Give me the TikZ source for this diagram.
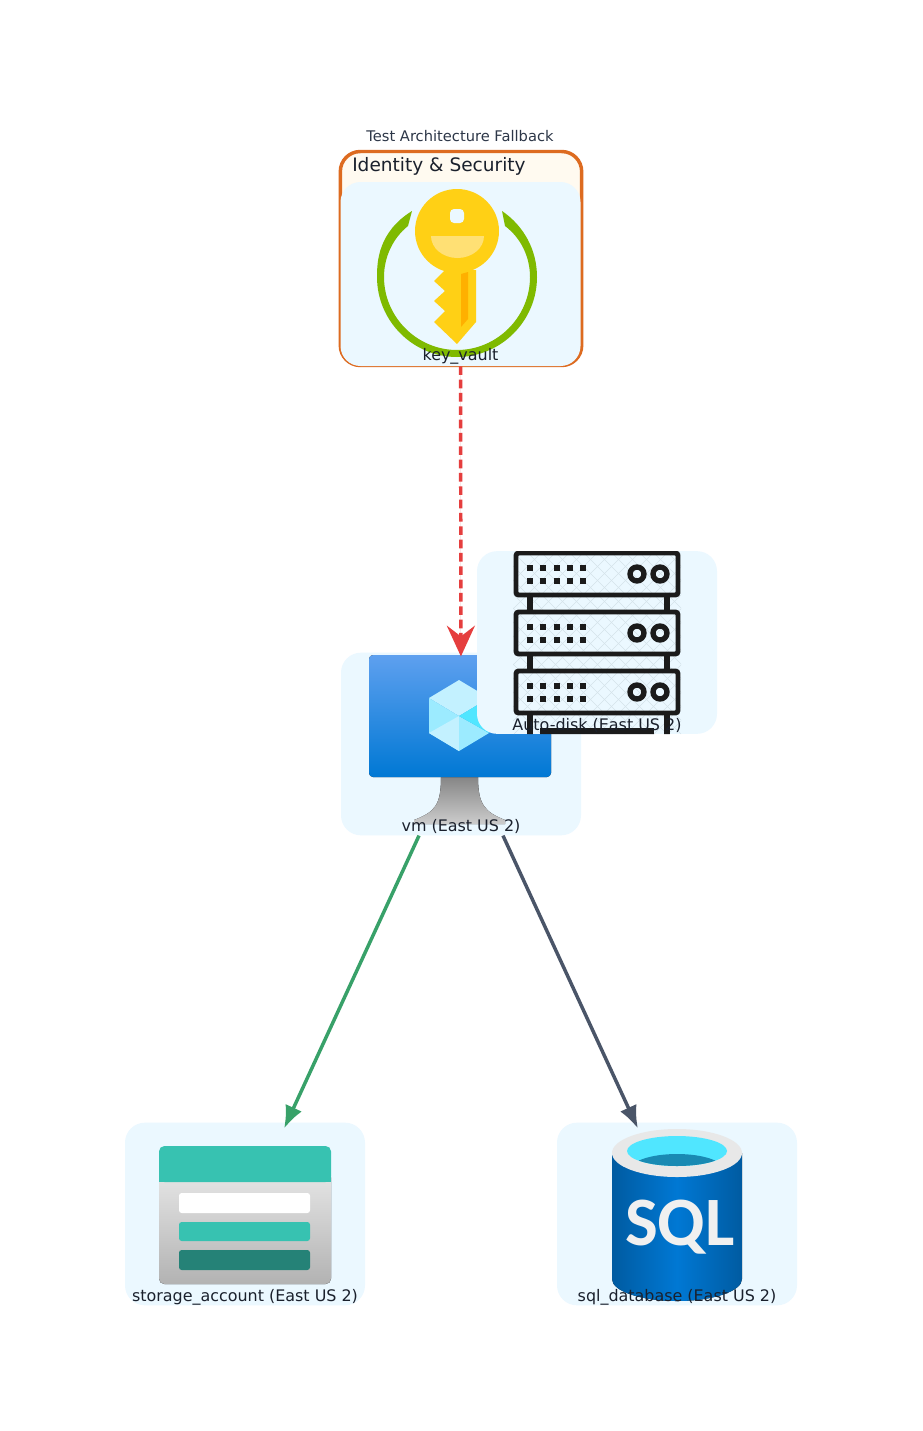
\documentclass[tikz,border=0pt]{standalone}
\usepackage{fontspec}
\setmainfont{DejaVu Sans}
\newfontfamily\sqlfont{Carlito}
\usetikzlibrary{arrows.meta,positioning}
\definecolor{nodebg}{HTML}{EBF8FF}
\definecolor{clusterbg}{HTML}{FFFAF0}
\definecolor{clusterline}{HTML}{DD6B20}
\definecolor{labeltext}{HTML}{1A202C}
\definecolor{titletext}{HTML}{2D3748}
\definecolor{keyyellow}{HTML}{FFD015}
\definecolor{keylight}{HTML}{FFE074}
\definecolor{keynotch}{HTML}{FFB000}
\definecolor{ringgreen}{HTML}{7FBA00}
\definecolor{tealbar}{HTML}{37C2B1}
\definecolor{darkteal}{HTML}{258277}
\definecolor{sqlblue}{HTML}{0078D4}
\definecolor{sqldark}{HTML}{005BA1}
\definecolor{sqlcyan}{HTML}{50E6FF}
\definecolor{sqlwater}{HTML}{198AB3}
\definecolor{vmtop}{HTML}{5EA0EF}
\definecolor{hexlight}{HTML}{C3F1FF}
\definecolor{hexmid}{HTML}{9CEBFF}
\definecolor{serverink}{HTML}{1B1B1B}
\definecolor{hatchline}{HTML}{D5E3EA}
\definecolor{edgered}{HTML}{E53E3E}
\definecolor{edgegreen}{HTML}{38A169}
\definecolor{edgegray}{HTML}{4A5568}
\tikzset{
  svc/.style={rectangle, fill=nodebg, rounded corners=15pt, minimum width=180pt, minimum height=137pt, inner sep=0pt},
  svclabel/.style={font=\fontsize{11.95pt}{14pt}\selectfont, text=labeltext, inner sep=0pt, anchor=base},
  flow/.style={line width=2.6pt, -{Latex[length=17pt,width=13.5pt]}, shorten >=-5pt},
  secureflow/.style={line width=2.6pt, dash pattern=on 6.5pt off 3.5pt, shorten >=-3pt, -{Stealth[length=23pt,width=21pt,inset=8pt]}},
}
\begin{document}
\begin{tikzpicture}[x=0.75pt,y=-0.75pt]
    \useasboundingbox (0,0) rectangle (922,1431);
    \fill[white] (0,0) rectangle (922,1431);

    % cluster
    \node[font=\fontsize{11pt}{13pt}\selectfont, text=titletext, inner sep=0pt, anchor=base] (title) at (460,141.5) {Test Architecture Fallback};
    \node[draw=clusterline, fill=clusterbg, line width=2.6pt, rounded corners=15pt, minimum width=181pt, minimum height=160.5pt, inner sep=0pt] (identity) at (461,258.5) {};
    \node[font=\fontsize{13.9pt}{16pt}\selectfont, text=labeltext, anchor=base west, inner sep=0pt] (identitylabel) at (352,171.5) {Identity \& Security};

    % key vault
    \node[svc, minimum height=138pt] (vault) at (460.5,274) {};
    \fill[ringgreen] (412,211) .. controls (378,232) and (377,262) .. (377,277) .. controls (377,321) and (413,357) .. (457,357) .. controls (501,357) and (537,321) .. (537,277) .. controls (537,250) and (524,226) .. (502,211) -- (505,226) .. controls (521,238) and (530,257) .. (530,277) .. controls (530,317) and (497,350) .. (457,350) .. controls (417,350) and (384,317) .. (384,277) .. controls (384,257) and (393,238) .. (408,226) -- cycle;
    \fill[keyyellow] (445,270) -- (476,270) -- (476,322) -- (457,344) -- (434,322) -- (445,311) -- (434,301) -- (445,291) -- (434,281) -- cycle;
    \fill[keyyellow] (457,231) circle[radius=42];
    \fill[keylight] (431,236) -- (484,236) arc[start angle=0, end angle=180, x radius=26.5, y radius=22] -- cycle;
    \fill[nodebg, rounded corners=3pt] (450,209) rectangle (464,223);
    \fill[keynotch] (461,274) -- (468,272) -- (468,319) -- (461,327) -- cycle;
    \node[svclabel] (vaultlabel) at (460.5,360) {key\_vault};

    % vm
    \node[svc] (vm) at (461,744) {};
    \fill[top color=gray!95, bottom color=gray!40] (441,777) -- (478,777) .. controls (478,805) and (485,812) .. (505,820) -- (505,824) -- (414,824) -- (414,820) .. controls (435,812) and (441,805) .. (441,777) -- cycle;
    \fill[top color=vmtop, bottom color=sqlblue, rounded corners=3pt] (369,655) rectangle (551,777);
    \fill[hexlight] (459,680) -- (489,698) -- (459,716) -- (429,698) -- cycle;
    \fill[hexmid] (429,698) -- (459,716) -- (459,751) -- (429,733) -- cycle;
    \fill[hexlight] (429,733) -- (459,716) -- (459,751) -- cycle;
    \fill[hexmid] (459,716) -- (489,733) -- (459,751) -- cycle;
    \fill[sqlcyan] (459,716) -- (489,698) -- (489,733) -- cycle;
    \node[svclabel] (vmlabel) at (461,831) {vm (East US 2)};

    % storage
    \node[svc] (storage) at (245,1214) {};
    \fill[top color=gray!20, bottom color=gray!60, rounded corners=4pt] (159,1172) rectangle (331,1284);
    \fill[tealbar, rounded corners=4pt] (159,1182) -- (159,1146) -- (331,1146) -- (331,1182) -- cycle;
    \fill[tealbar] (159,1170) rectangle (331,1182);
    \fill[white, rounded corners=2pt] (179,1193) rectangle (310,1213);
    \fill[tealbar, rounded corners=2pt] (179,1222) rectangle (310,1241);
    \fill[darkteal, rounded corners=2pt] (179,1250) rectangle (310,1270);
    \node[svclabel] (storagelabel) at (245,1301.5) {storage\_account (East US 2)};

    % sql database
    \node[svc] (sql) at (677,1214) {};
    \fill[left color=sqldark, right color=sqldark, middle color=sqlblue] (612,1153) -- (742,1153) -- (742,1279) arc[start angle=0, end angle=180, x radius=65, y radius=22] -- cycle;
    \fill[gray!18] (677,1153) ellipse[x radius=65, y radius=24];
    \fill[sqlcyan] (677,1151) ellipse[x radius=50, y radius=15];
    \begin{scope}
      \clip (677,1151) ellipse[x radius=50, y radius=15];
      \fill[sqlwater] (677,1169) ellipse[x radius=46, y radius=15];
    \end{scope}
    \node[font=\fontsize{52pt}{52pt}\selectfont\sqlfont\bfseries, text=gray!12, inner sep=0pt] (sqltext) at (680,1227.5) {SQL};
    \node[svclabel] (sqllabel) at (677,1301.5) {sql\_database (East US 2)};

    % connectors
    \draw[secureflow, draw=edgered, fill=edgered] (vault) -- (vm);
    \draw[flow, draw=edgegreen, fill=edgegreen] (vm) -- (storage);
    \draw[flow, draw=edgegray, fill=edgegray] (vm) -- (sql);

    % disk
    \node[svc] (disk) at (597,642.5) {};
    \begin{scope}
      \clip[rounded corners=15pt] (477,551) rectangle (717,734);
      \begin{scope}
        \clip (513,553) rectangle (681,734);
        \foreach \hatchx in {360,374,...,700} {
          \draw[hatchline, line width=0.5pt] (\hatchx,553) -- (\hatchx+181,734);
          \draw[hatchline, line width=0.5pt] (\hatchx+181,553) -- (\hatchx,734);
        }
      \end{scope}
      \foreach \rowy in {553,612,671} {
        \draw[serverink, line width=3.7pt, rounded corners=2pt] (516,\rowy) rectangle (678,\rowy+42);
        \foreach \colx in {530,543,557,570,583} {
          \fill[serverink] (\colx-3,\rowy+15-3) rectangle (\colx+3,\rowy+15+3);
          \fill[serverink] (\colx-3,\rowy+28-3) rectangle (\colx+3,\rowy+28+3);
        }
        \draw[serverink, line width=4pt] (637,\rowy+21) circle[radius=7];
        \draw[serverink, line width=4pt] (660,\rowy+21) circle[radius=7];
      }
      \foreach \gapy in {595,654} {
        \draw[serverink, line width=4.5pt] (530,\gapy) -- (530,\gapy+17);
        \draw[serverink, line width=4.5pt] (667,\gapy) -- (667,\gapy+17);
      }
      \draw[serverink, line width=4.5pt] (530,713) -- (530,736);
      \draw[serverink, line width=4.5pt] (667,713) -- (667,736);
      \fill[serverink] (540,728) rectangle (654,736);
    \end{scope}
    \node[svclabel] (disklabel) at (597,730) {Auto-disk (East US 2)};
\end{tikzpicture}
\end{document}
